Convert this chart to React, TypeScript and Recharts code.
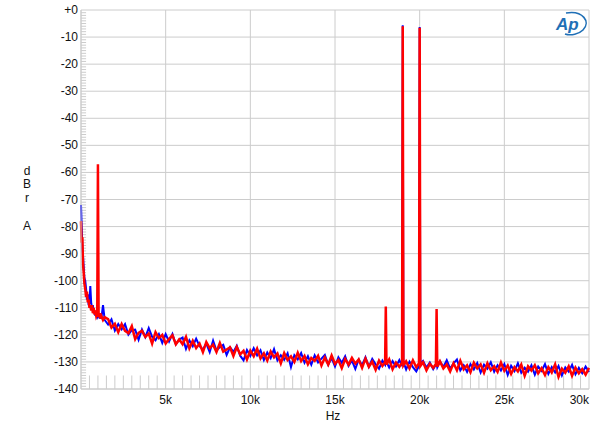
import { LineChart, Line, XAxis, YAxis, CartesianGrid, ReferenceLine } from "recharts";

// frequency in kHz
const FREQ = [
  0, 0.04, 0.08, 0.12, 0.16, 0.2, 0.25, 0.3, 0.35, 0.4, 0.45, 0.5, 0.55, 0.6, 0.65, 0.7, 0.75, 0.8, 0.85, 0.9,
  0.96, 1.0, 1.04, 1.1, 1.15, 1.2, 1.3, 1.4,
  1.6, 1.8, 2.0, 2.2, 2.4, 2.6, 2.8, 3.0, 3.2, 3.4, 3.6, 3.8, 4.0, 4.2, 4.4, 4.6, 4.8, 5.0,
  5.2, 5.4, 5.6, 5.8, 6.0, 6.2, 6.4, 6.6, 6.8, 7.0, 7.2, 7.4, 7.6, 7.8, 8.0, 8.2, 8.4, 8.6, 8.8, 9.0,
  9.2, 9.4, 9.6, 9.8, 10.0, 10.2, 10.4, 10.6, 10.8, 11.0, 11.2, 11.4, 11.6, 11.8, 12.0, 12.2, 12.4, 12.6, 12.8, 13.0,
  13.2, 13.4, 13.6, 13.8, 14.0, 14.2, 14.4, 14.6, 14.8, 15.0, 15.2, 15.4, 15.6, 15.8, 16.0, 16.2, 16.4, 16.6, 16.8, 17.0,
  17.2, 17.4, 17.6, 17.8, 17.96, 18.0, 18.04, 18.2, 18.4, 18.6, 18.8, 18.96, 19.0, 19.04,
  19.2, 19.4, 19.6, 19.8, 19.96, 20.0, 20.04, 20.2, 20.4, 20.6, 20.8, 20.96, 21.0, 21.04,
  21.2, 21.4, 21.6, 21.8, 22.0, 22.2, 22.4, 22.6, 22.8, 23.0, 23.2, 23.4, 23.6, 23.8, 24.0, 24.2, 24.4, 24.6, 24.8, 25.0,
  25.2, 25.4, 25.6, 25.8, 26.0, 26.2, 26.4, 26.6, 26.8, 27.0, 27.2, 27.4, 27.6, 27.8, 28.0, 28.2, 28.4, 28.6, 28.8, 29.0,
  29.2, 29.4, 29.6, 29.8, 30.0,
];

const BLUE = [
  -72, -80, -88, -91, -95, -99, -100, -103, -107, -105, -109, -108, -102, -108, -110, -109, -112, -111, -113, -112,
  -113.5, -113, -112, -114, -112.5, -114, -109, -114.5,
  -116.2, -114.3, -118.4, -116.0, -118.0, -116.0, -119.9, -118.3, -118.1, -121.8, -118.0, -120.8, -117.5, -120.7, -122.0, -119.7, -123.0, -119.7,
  -122.5, -119.7, -123.5, -121.7, -121.0, -125.2, -122.0, -124.2, -121.4, -124.2, -125.4, -123.2, -126.4, -122.1, -125.8, -124.5, -123.7, -127.4, -124.6, -126.3,
  -124.0, -127.7, -129.4, -125.6, -127.8, -124.9, -127.6, -125.7, -129.3, -126.5, -128.6, -125.3, -129.4, -127.5, -129.2, -126.8, -131.9, -127.5, -129.1, -126.7,
  -130.3, -127.9, -131.0, -127.6, -130.2, -128.8, -127.4, -131.0, -128.6, -131.7, -128.3, -130.3, -127.9, -131.5, -129.5, -132.6, -129.1, -131.2, -128.3, -131.8,
  -128.9, -130.9, -132.5, -129.5, -131.0, -129.0, -130.0, -132.1, -129.7, -131.7, -129.3, -131.5, -5.6, -130.0,
  -132.8, -129.9, -131.9, -133.5, -131.5, -6.3, -130.5, -129.6, -132.1, -130.2, -132.7, -131.0, -130.5, -132.0,
  -129.8, -131.9, -129.4, -132.5, -130.5, -129.1, -133.1, -131.2, -133.7, -130.8, -132.8, -130.4, -133.9, -131.0, -132.5, -130.1, -133.6, -131.2, -133.2, -130.8,
  -134.8, -131.4, -133.4, -130.5, -134.0, -132.1, -133.6, -131.2, -134.7, -131.7, -133.3, -130.8, -134.4, -131.9, -133.9, -131.5, -135.0, -132.0, -133.6, -131.1,
  -134.6, -132.2, -134.2, -131.7, -133.7,
];

const RED = [
  -78, -86, -84, -94, -97, -101, -103, -106, -104, -108, -107, -110, -109, -111, -109, -112, -110, -112.5, -111, -113,
  -112, -57, -113.5, -112, -114, -113, -114.5, -113.5,
  -114.2, -117.3, -115.9, -119.0, -116.0, -118.5, -119.4, -116.8, -121.6, -119.3, -118.5, -120.8, -119.5, -123.2, -119.0, -121.2, -120.0, -123.2,
  -121.5, -120.2, -123.5, -121.7, -123.5, -120.7, -125.0, -122.2, -124.9, -123.2, -126.4, -122.7, -124.9, -123.6, -126.3, -123.0, -126.2, -125.4, -124.6, -127.8,
  -124.5, -127.2, -125.9, -129.1, -125.8, -127.9, -125.1, -128.7, -126.8, -129.5, -126.1, -128.3, -126.9, -130.5, -126.7, -129.3, -127.9, -130.0, -126.6, -129.7,
  -127.8, -130.9, -128.5, -129.6, -127.7, -131.3, -128.4, -131.0, -127.6, -130.7, -129.3, -132.3, -128.9, -131.0, -128.5, -130.6, -129.1, -132.2, -128.8, -131.8,
  -129.9, -132.9, -129.5, -131.5, -130.0, -109.5, -131.0, -129.1, -132.7, -130.2, -131.8, -130.3, -6.0, -131.3,
  -129.8, -132.4, -129.4, -132.0, -130.5, -6.6, -131.5, -130.1, -133.1, -130.7, -132.2, -130.7, -110.5, -131.8,
  -129.8, -132.4, -130.9, -133.5, -130.5, -133.1, -129.6, -132.7, -131.2, -133.8, -130.3, -132.4, -130.9, -134.0, -130.5, -133.1, -131.6, -133.7, -130.2, -133.3,
  -131.3, -134.4, -131.9, -133.5, -131.0, -135.1, -131.6, -133.2, -131.2, -134.2, -132.3, -134.8, -131.9, -133.9, -130.9, -135.5, -132.5, -134.0, -131.6, -135.1,
  -132.1, -134.2, -132.7, -134.7, -132.2,
];

const X_TICKS = [0, 5, 10, 15, 20, 25, 30];
const Y_TICKS = [-140, -130, -120, -110, -100, -90, -80, -70, -60, -50, -40, -30, -20, -10, 0];

const FONT = "Arial, 'Liberation Sans', sans-serif";
const GRID = "#cccccc";
const MINOR = "#cccccc";

const data = FREQ.map((f, i) => ({ f, blue: BLUE[i], red: RED[i] }));

const minorY: number[] = [];
for (let v = -139; v < 0; v++) if (v % 10 !== 0) minorY.push(v);
const minorX: number[] = [];
for (let k = 0.5; k < 30; k += 0.5) if (Math.abs(k % 5) > 0.01) minorX.push(k);

function XTick(props: any) {
  const { x, y, payload } = props;
  const v = payload.value;
  if (v === 0) return null;
  const last = v === 30;
  return (
    <text x={x} y={y + 15} textAnchor={last ? "end" : "middle"} fontSize={12} fontFamily={FONT} fill="#111">
      {v}k
    </text>
  );
}

function YTick(props: any) {
  const { x, y, payload } = props;
  const v = payload.value;
  return (
    <text x={x} y={y + 4} textAnchor="end" fontSize={12} fontFamily={FONT} fill="#111">
      {v === 0 ? "+0" : v}
    </text>
  );
}

export default function App() {
  const letter = (ch: string, top: number) => (
    <div style={{ position: "absolute", left: 21, top, width: 12, textAlign: "center", fontSize: 12, fontFamily: FONT, color: "#111", lineHeight: "14px" }}>
      {ch}
    </div>
  );
  return (
    <div style={{ position: "absolute", left: 0, top: 0, width: 600, height: 430, background: "#fff" }}>
      <LineChart width={600} height={430} data={data} margin={{ top: 10, right: 11, bottom: 0, left: 0 }}>
        <CartesianGrid stroke={GRID} strokeWidth={1} />
        <XAxis
          dataKey="f"
          type="number"
          domain={[0, 30]}
          ticks={X_TICKS}
          interval={0}
          height={41}
          tickSize={0}
          tickMargin={0}
          tick={<XTick />}
          axisLine={{ stroke: GRID }}
        />
        <YAxis
          type="number"
          domain={[-140, 0]}
          ticks={Y_TICKS}
          interval={0}
          width={81}
          tickSize={0}
          tickMargin={3}
          tick={<YTick />}
          axisLine={{ stroke: GRID }}
        />
        {minorY.map((v) => (
          <ReferenceLine key={"my" + v} segment={[{ x: 0, y: v }, { x: 0.3, y: v }]} stroke={MINOR} strokeWidth={1} />
        ))}
        {minorX.map((k) => (
          <ReferenceLine key={"mx" + k} segment={[{ x: k, y: -140 }, { x: k, y: -135 }]} stroke={MINOR} strokeWidth={1} />
        ))}
        <Line type="linear" dataKey="blue" stroke="#0000ff" strokeWidth={2} dot={false} isAnimationActive={false} />
        <Line type="linear" dataKey="red" stroke="#ff0000" strokeWidth={2.5} dot={false} isAnimationActive={false} />
      </LineChart>
      {letter("d", 164)}
      {letter("B", 177)}
      {letter("r", 191)}
      {letter("A", 219)}
      <div style={{ position: "absolute", left: 321, top: 409, width: 24, textAlign: "center", fontSize: 12, fontFamily: FONT, color: "#111" }}>
        Hz
      </div>
      <svg style={{ position: "absolute", left: 553, top: 10 }} width={36} height={27}>
        <text x={3} y={20} fontSize={17} fontStyle="italic" fontWeight="bold" fontFamily={FONT} fill="#1f6fb6">
          Ap
        </text>
        <path d="M 13 3 C 30 0, 38 12, 30 20 C 26 24, 18 26, 12 24" fill="none" stroke="#1f6fb6" strokeWidth={1.6} />
      </svg>
    </div>
  );
}
